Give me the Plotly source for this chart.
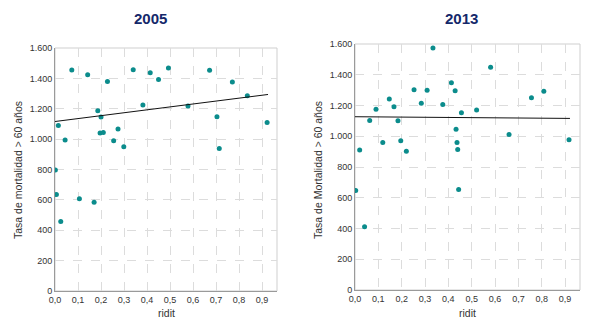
import plotly.graph_objects as go

# ---- data ----
x_2005 = [0.0015, 0.006, 0.0145, 0.025, 0.044, 0.073, 0.106, 0.142, 0.170, 0.186, 0.196, 0.200,
          0.210, 0.228, 0.255, 0.274, 0.299, 0.340, 0.382, 0.414, 0.450, 0.493, 0.578,
          0.672, 0.704, 0.714, 0.771, 0.836, 0.922]
y_2005 = [796, 635, 1090, 457, 995, 1455, 607, 1424, 585, 1187, 1040, 1145,
          1044, 1380, 989, 1066, 949, 1457, 1224, 1437, 1393, 1468, 1218,
          1453, 1147, 938, 1376, 1286, 1110]
trend_x_2005 = [0.0, 0.926]
trend_y_2005 = [1116, 1294]

x_2013 = [0.003, 0.020, 0.041, 0.063, 0.090, 0.119, 0.147, 0.167, 0.184, 0.196, 0.220, 0.253,
          0.284, 0.309, 0.334, 0.376, 0.413, 0.429, 0.433, 0.437, 0.440, 0.444, 0.456,
          0.521, 0.581, 0.660, 0.756, 0.809, 0.917]
y_2013 = [647, 910, 412, 1103, 1175, 960, 1242, 1192, 1101, 970, 903, 1303,
          1214, 1300, 1574, 1207, 1348, 1296, 1046, 960, 914, 653, 1153,
          1170, 1448, 1012, 1250, 1292, 977]
trend_x_2013 = [0.0, 0.921]
trend_y_2013 = [1127, 1116]

titles = ["2005", "2013"]
y_titles = ["Tasa de mortalidad > 60 años", "Tasa de Mortalidad > 60 años"]
x_title = "ridit"
y_tickvals = [0, 200, 400, 600, 800, 1000, 1200, 1400, 1600]
y_ticktext = ["0", "200", "400", "600", "800", "1.000", "1.200", "1.400", "1.600"]
x_tickvals = [0.0, 0.1, 0.2, 0.3, 0.4, 0.5, 0.6, 0.7, 0.8, 0.9]
x_ticktext = ["0,0", "0,1", "0,2", "0,3", "0,4", "0,5", "0,6", "0,7", "0,8", "0,9"]

W, H = 604, 330
MARK = "#0b8c8c"
TICKFONT = dict(family="Liberation Sans, Arial, sans-serif", size=9, color="#333333")

fig = go.Figure()

fig.add_trace(go.Scatter(x=x_2005, y=y_2005, mode="markers",
                         marker=dict(color=MARK, size=5), xaxis="x", yaxis="y",
                         showlegend=False, hoverinfo="x+y"))
fig.add_trace(go.Scatter(x=trend_x_2005, y=trend_y_2005, mode="lines",
                         line=dict(color="#111111", width=1), xaxis="x", yaxis="y",
                         showlegend=False))
fig.add_trace(go.Scatter(x=x_2013, y=y_2013, mode="markers",
                         marker=dict(color=MARK, size=5), xaxis="x2", yaxis="y2",
                         showlegend=False, hoverinfo="x+y"))
fig.add_trace(go.Scatter(x=trend_x_2013, y=trend_y_2013, mode="lines",
                         line=dict(color="#111111", width=1), xaxis="x2", yaxis="y2",
                         showlegend=False))

# plot areas (pixel geometry)
areas = [
    dict(l=55, r=277, t=48, b=291, xr=[0, 0.965]),
    dict(l=355, r=580, t=44, b=290, xr=[0, 0.964]),
]

def xdom(a):
    return [a["l"] / W, a["r"] / W]

def ydom(a):
    return [(H - a["b"]) / H, (H - a["t"]) / H]

axis_common = dict(showgrid=True, gridcolor="#dcdcdc", griddash="dash", gridwidth=1,
                   zeroline=False, showline=True, linecolor="#9a9a9a", linewidth=1,
                   ticks="", tickfont=TICKFONT, automargin=False)

layout_axes = {}
for i, a in enumerate(areas):
    sx = "" if i == 0 else str(i + 1)
    layout_axes["xaxis" + sx] = dict(
        domain=xdom(a), range=a["xr"], anchor="y" + sx,
        tickvals=x_tickvals, ticktext=x_ticktext, **axis_common)
    layout_axes["yaxis" + sx] = dict(
        domain=ydom(a), range=[0, 1600], anchor="x" + sx,
        tickvals=y_tickvals, ticktext=y_ticktext, **axis_common)

fig.update_layout(**layout_axes)

shapes = []
annotations = []
title_x = [150, 461]
ytitle_x = [18, 318]
for i, a in enumerate(areas):
    sx = "" if i == 0 else str(i + 1)
    # light border (top/right)
    shapes.append(dict(type="rect", xref="x" + sx + " domain", yref="y" + sx + " domain",
                       x0=0, x1=1, y0=0, y1=1, line=dict(color="#cfcfcf", width=1),
                       layer="below"))
    annotations.append(dict(text="<b>" + titles[i] + "</b>", x=title_x[i] / W, y=(H - 18) / H,
                            xref="paper", yref="paper", showarrow=False,
                            xanchor="center", yanchor="middle",
                            font=dict(family="Liberation Sans Narrow, Arial Narrow, Liberation Sans, sans-serif",
                                      size=15, color="#14286a")))
    annotations.append(dict(text=x_title, x=((a["l"] + a["r"]) / 2) / W, y=(H - 313) / H,
                            xref="paper", yref="paper", showarrow=False,
                            xanchor="center", yanchor="middle",
                            font=dict(family="Liberation Sans, Arial, sans-serif", size=10.5,
                                      color="#333333")))
    annotations.append(dict(text=y_titles[i], x=ytitle_x[i] / W, y=(H - 170) / H,
                            xref="paper", yref="paper", showarrow=False, textangle=-90,
                            xanchor="center", yanchor="middle",
                            font=dict(family="Liberation Sans, Arial, sans-serif", size=10.5,
                                      color="#333333")))

fig.update_layout(width=W, height=H, margin=dict(l=0, r=0, t=0, b=0),
                  paper_bgcolor="white", plot_bgcolor="white",
                  shapes=shapes, annotations=annotations, showlegend=False)

fig.write_html("out.html",
               config={"displayModeBar": False},
               post_script="document.body.style.margin='0';document.body.style.padding='0';"
                           "document.body.style.overflow='hidden';")
